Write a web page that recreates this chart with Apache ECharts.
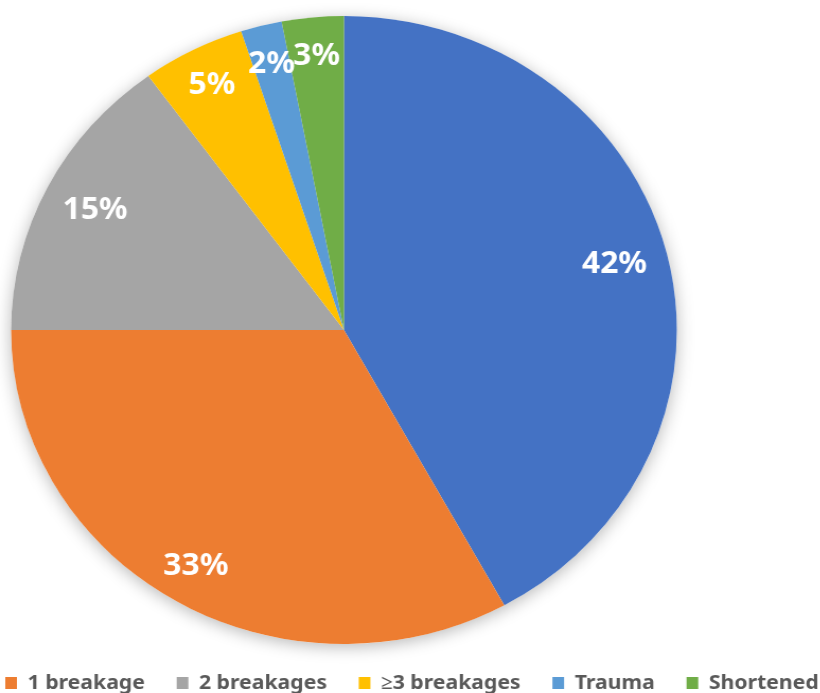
<!DOCTYPE html>
<html>
<head>
<meta charset="utf-8">
<script src="https://cdn.jsdelivr.net/npm/echarts@6/dist/echarts.min.js"></script>
<style>
  html, body { margin: 0; padding: 0; background: #fff; overflow: hidden; }
  #wrap { width: 820px; height: 693px; overflow: hidden; }
  /* the chart is drawn slightly widened, so the pie reads as a wide ellipse */
  #chart { width: 774px; height: 693px; transform: scaleX(1.06); transform-origin: 0 0; }
</style>
</head>
<body>
<div id="wrap"><div id="chart"></div></div>
<script>
// Share of each failure cause, percent, clockwise from 12 o'clock
const categories = ['No breakage', '1 breakage', '2 breakages', '\u22653 breakages', 'Trauma', 'Shortened'];
const shares = [42, 33, 15, 5, 2, 3];
const colors = ['#4472C4', '#ED7D31', '#A5A5A5', '#FFC000', '#5B9BD5', '#70AD47'];
const legendItems = ['1 breakage', '2 breakages', '\u22653 breakages', 'Trauma', 'Shortened'];
// which labels sit a little further in from the rim
const innerLabel = [true, false, true, false, false, false];

const R = 314;
const center = [324.5, 330];
const total = shares.reduce((a, b) => a + b, 0);

const sliceData = categories.map((name, i) => ({
  name: name,
  value: shares[i],
  itemStyle: { color: colors[i] }
}));

const labelStyle = {
  position: 'inside',
  formatter: p => p.value + '%',
  color: '#fff',
  fontFamily: 'Noto Sans',
  fontWeight: 'bold',
  fontSize: 30
};

// transparent ring that only carries percentage labels
function labelRing(inner, pick) {
  return {
    type: 'pie',
    z: 3,
    silent: true,
    center: center,
    radius: [Math.round(R * inner), R],
    startAngle: 90,
    clockwise: true,
    avoidLabelOverlap: false,
    labelLayout: { hideOverlap: false },
    itemStyle: { color: 'rgba(0,0,0,0)', borderWidth: 0 },
    labelLine: { show: false },
    label: labelStyle,
    data: categories.map((name, i) => ({
      name: name + ' ',
      value: shares[i],
      label: { show: pick(i) }
    }))
  };
}

const chart = echarts.init(document.getElementById('chart'), null, { renderer: 'canvas' });
chart.setOption({
  animation: false,
  backgroundColor: '#fff',
  legend: {
    data: legendItems,
    left: 0,
    top: 668,
    width: 900,
    orient: 'horizontal',
    itemWidth: 11,
    itemHeight: 12,
    itemGap: 30,
    icon: 'rect',
    textStyle: {
      fontFamily: 'Noto Sans',
      fontWeight: 'bold',
      fontSize: 20,
      color: '#595959',
      padding: [0, 0, 0, 5]
    }
  },
  series: [
    {
      // backing disc that casts the soft drop shadow
      type: 'pie',
      silent: true,
      z: 1,
      center: center,
      radius: R,
      label: { show: false },
      labelLine: { show: false },
      itemStyle: {
        color: '#fff',
        shadowBlur: 16,
        shadowColor: 'rgba(0,0,0,0.28)',
        shadowOffsetY: 3
      },
      data: [{ name: '', value: total }]
    },
    {
      type: 'pie',
      z: 2,
      silent: true,
      center: center,
      radius: R,
      startAngle: 90,
      clockwise: true,
      avoidLabelOverlap: false,
      label: { show: false },
      labelLine: { show: false },
      itemStyle: { borderWidth: 0 },
      data: sliceData
    },
    labelRing(0.66, i => innerLabel[i]),
    labelRing(0.73, i => !innerLabel[i])
  ]
});
</script>
</body>
</html>
